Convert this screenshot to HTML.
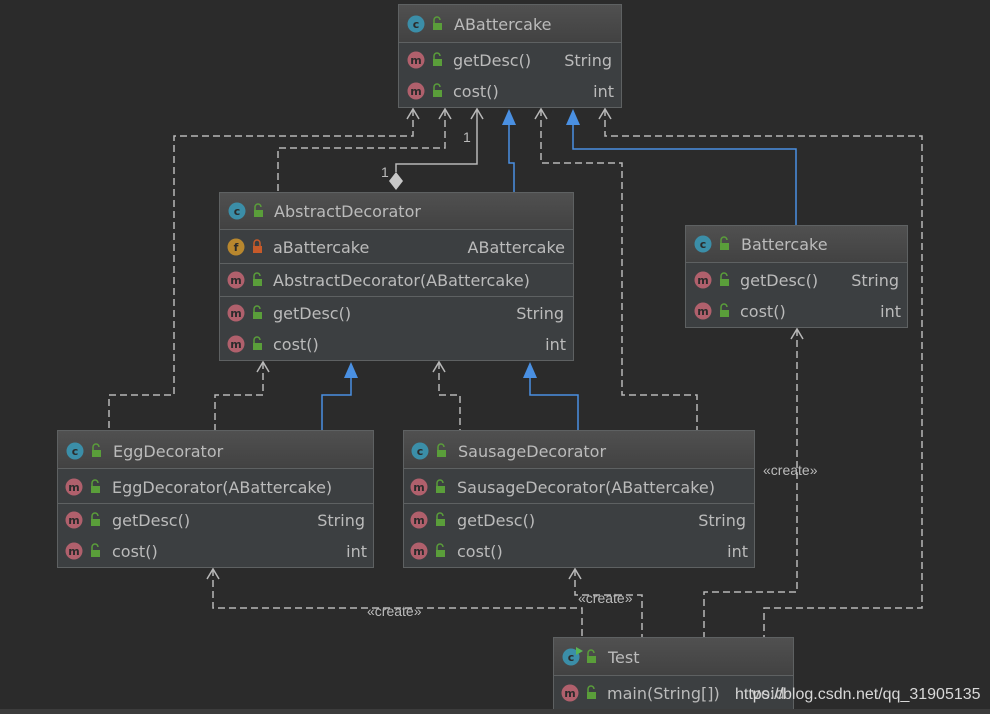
<!DOCTYPE html>
<html><head><meta charset="utf-8"><style>
html,body{margin:0;padding:0;background:#2b2b2b;}
svg{display:block;}
text{font-family:"DejaVu Sans","Liberation Sans",sans-serif;font-size:16px;fill:#bbbbbb;}
.lbl{font-family:"Liberation Sans",sans-serif;font-size:14px;fill:#bbbbbb;}
.ic{font-family:"DejaVu Sans",sans-serif;font-size:11px;fill:#2b2b2b;font-weight:bold;}
</style></head><body>
<svg width="990" height="714" viewBox="0 0 990 714" xmlns="http://www.w3.org/2000/svg">
<defs>
<linearGradient id="hg" x1="0" y1="0" x2="0" y2="1"><stop offset="0" stop-color="#505050"/><stop offset="1" stop-color="#424242"/></linearGradient>
<g id="lock"><rect x="-4" y="-1" width="9" height="7" fill="#5a9e3a"/><path d="M-3,-1 v-3 a3,3 0 0 1 6,0" fill="none" stroke="#5a9e3a" stroke-width="1.5"/></g>
<g id="lockr"><rect x="-4" y="-1" width="9" height="7" fill="#c75a2a"/><path d="M-3,-1 v-3 a3,3 0 0 1 6,0 v3" fill="none" stroke="#c75a2a" stroke-width="1.5"/></g>
<g id="ic"><circle r="8.5" fill="#3b8ea8"/><text class="ic" x="0" y="4" text-anchor="middle">c</text></g>
<g id="im"><circle r="8.5" fill="#b0606c"/><text class="ic" x="0" y="4" text-anchor="middle">m</text></g>
<g id="if"><circle r="8.5" fill="#b8872e"/><text class="ic" x="0" y="4" text-anchor="middle">f</text></g>
</defs>
<rect x="0" y="0" width="990" height="714" fill="#2b2b2b"/>

<!-- connectors -->
<g fill="none" stroke="#b8b8b8" stroke-width="1.5" stroke-dasharray="7,4">
<path d="M413,109 V136 H174 V395 H109 V431"/>
<path d="M445,109 V148 H278 V192"/>
<path d="M541,109 V163 H622 V395 H697 V431"/>
<path d="M605,109 V136 H922 V608 H764 V637"/>
<path d="M263,362 V395 H215 V431"/>
<path d="M439,362 V395 H460 V431"/>
<path d="M797,329 V592 H704 V637"/>
<path d="M213,569 V608 H582 V637"/>
<path d="M575,569 V595 H642 V637"/>
</g>
<g fill="none" stroke="#b8b8b8" stroke-width="1.5">
<path d="M407,119 L413,109 L419,119 M439,119 L445,109 L451,119 M471,119 L477,109 L483,119 M535,119 L541,109 L547,119 M599,119 L605,109 L611,119"/>
<path d="M257,372 L263,362 L269,372 M433,372 L439,362 L445,372"/>
<path d="M791,339 L797,329 L803,339"/>
<path d="M207,579 L213,569 L219,579 M569,579 L575,569 L581,579"/>
<path d="M477,109 V164 H396 V172"/>
</g>
<polygon points="396,172 403,181 396,190 389,181" fill="#c8c8c8"/>
<g fill="none" stroke="#4a90e2" stroke-width="1.5">
<path d="M509,125 V163 H514 V192"/>
<path d="M573,125 V149 H796 V225"/>
<path d="M351,378 V395 H322 V431"/>
<path d="M530,378 V395 H578 V431"/>
</g>
<g fill="#4a90e2">
<polygon points="509,109 502,125 516,125"/>
<polygon points="573,109 566,125 580,125"/>
<polygon points="351,362 344,378 358,378"/>
<polygon points="530,362 523,378 537,378"/>
</g>
<text class="lbl" x="463" y="142">1</text>
<text class="lbl" x="381" y="177">1</text>
<text class="lbl" x="763" y="475">«create»</text>
<text class="lbl" x="367" y="616">«create»</text>
<text class="lbl" x="578" y="603">«create»</text>

<!-- ABattercake -->
<g>
<rect x="398.5" y="4.5" width="223" height="103" fill="#3c3f41" stroke="#5e6162"/>
<rect x="399" y="5" width="222" height="37" fill="url(#hg)"/>
<line x1="399" y1="42.5" x2="621" y2="42.5" stroke="#5e6162"/>
<use href="#ic" x="416" y="24"/><use href="#lock" x="437" y="24"/>
<text x="454" y="30">ABattercake</text>
<use href="#im" x="416" y="60"/><use href="#lock" x="437" y="60"/>
<text x="453" y="66">getDesc()</text><text x="612" y="66" text-anchor="end">String</text>
<use href="#im" x="416" y="91"/><use href="#lock" x="437" y="91"/>
<text x="453" y="97">cost()</text><text x="614" y="97" text-anchor="end">int</text>
</g>

<!-- AbstractDecorator -->
<g>
<rect x="219.5" y="192.5" width="354" height="168" fill="#3c3f41" stroke="#5e6162"/>
<rect x="220" y="193" width="353" height="36" fill="url(#hg)"/>
<line x1="220" y1="229.5" x2="573" y2="229.5" stroke="#5e6162"/>
<line x1="220" y1="263.5" x2="573" y2="263.5" stroke="#5e6162"/>
<line x1="220" y1="296.5" x2="573" y2="296.5" stroke="#5e6162"/>
<use href="#ic" x="237" y="211"/><use href="#lock" x="258" y="211"/>
<text x="274" y="217">AbstractDecorator</text>
<use href="#if" x="236" y="247"/><use href="#lockr" x="257" y="247"/>
<text x="273" y="253">aBattercake</text><text x="565" y="253" text-anchor="end">ABattercake</text>
<use href="#im" x="236" y="280"/><use href="#lock" x="257" y="280"/>
<text x="273" y="286">AbstractDecorator(ABattercake)</text>
<use href="#im" x="236" y="313"/><use href="#lock" x="257" y="313"/>
<text x="273" y="319">getDesc()</text><text x="564" y="319" text-anchor="end">String</text>
<use href="#im" x="236" y="344"/><use href="#lock" x="257" y="344"/>
<text x="273" y="350">cost()</text><text x="566" y="350" text-anchor="end">int</text>
</g>

<!-- Battercake -->
<g>
<rect x="685.5" y="225.5" width="222" height="102" fill="#3c3f41" stroke="#5e6162"/>
<rect x="686" y="226" width="221" height="36" fill="url(#hg)"/>
<line x1="686" y1="262.5" x2="907" y2="262.5" stroke="#5e6162"/>
<use href="#ic" x="703" y="244"/><use href="#lock" x="724" y="244"/>
<text x="741" y="250">Battercake</text>
<use href="#im" x="703" y="280"/><use href="#lock" x="724" y="280"/>
<text x="740" y="286">getDesc()</text><text x="899" y="286" text-anchor="end">String</text>
<use href="#im" x="703" y="311"/><use href="#lock" x="724" y="311"/>
<text x="740" y="317">cost()</text><text x="901" y="317" text-anchor="end">int</text>
</g>

<!-- EggDecorator -->
<g>
<rect x="57.5" y="430.5" width="316" height="137" fill="#3c3f41" stroke="#5e6162"/>
<rect x="58" y="431" width="315" height="37" fill="url(#hg)"/>
<line x1="58" y1="468.5" x2="373" y2="468.5" stroke="#5e6162"/>
<line x1="58" y1="503.5" x2="373" y2="503.5" stroke="#5e6162"/>
<use href="#ic" x="75" y="451"/><use href="#lock" x="96" y="451"/>
<text x="113" y="457">EggDecorator</text>
<use href="#im" x="74" y="487"/><use href="#lock" x="95" y="487"/>
<text x="112" y="493">EggDecorator(ABattercake)</text>
<use href="#im" x="74" y="520"/><use href="#lock" x="95" y="520"/>
<text x="112" y="526">getDesc()</text><text x="365" y="526" text-anchor="end">String</text>
<use href="#im" x="74" y="551"/><use href="#lock" x="95" y="551"/>
<text x="112" y="557">cost()</text><text x="367" y="557" text-anchor="end">int</text>
</g>

<!-- SausageDecorator -->
<g>
<rect x="403.5" y="430.5" width="351" height="137" fill="#3c3f41" stroke="#5e6162"/>
<rect x="404" y="431" width="350" height="37" fill="url(#hg)"/>
<line x1="404" y1="468.5" x2="754" y2="468.5" stroke="#5e6162"/>
<line x1="404" y1="503.5" x2="754" y2="503.5" stroke="#5e6162"/>
<use href="#ic" x="420" y="451"/><use href="#lock" x="441" y="451"/>
<text x="458" y="457">SausageDecorator</text>
<use href="#im" x="419" y="487"/><use href="#lock" x="440" y="487"/>
<text x="457" y="493">SausageDecorator(ABattercake)</text>
<use href="#im" x="419" y="520"/><use href="#lock" x="440" y="520"/>
<text x="457" y="526">getDesc()</text><text x="746" y="526" text-anchor="end">String</text>
<use href="#im" x="419" y="551"/><use href="#lock" x="440" y="551"/>
<text x="457" y="557">cost()</text><text x="748" y="557" text-anchor="end">int</text>
</g>

<!-- Test -->
<g>
<rect x="553.5" y="637.5" width="240" height="76" fill="#3c3f41" stroke="#5e6162"/>
<rect x="554" y="638" width="239" height="37" fill="url(#hg)"/>
<line x1="554" y1="675.5" x2="793" y2="675.5" stroke="#5e6162"/>
<use href="#ic" x="571" y="657"/><polygon points="576,647 583,651 576,655" fill="#5ab552"/><use href="#lock" x="591" y="657"/>
<text x="608" y="663">Test</text>
<use href="#im" x="570" y="693"/><use href="#lock" x="591" y="693"/>
<text x="607" y="699">main(String[])</text><text x="785" y="699" text-anchor="end">void</text>
</g>
<rect x="0" y="709" width="990" height="5" fill="#3c3c3c"/>
<text x="735" y="699" style="font-family:'Liberation Sans',sans-serif;font-size:16px;fill:#d8d8d8">https://blog.csdn.net/qq_31905135</text>
</svg>
</body></html>
